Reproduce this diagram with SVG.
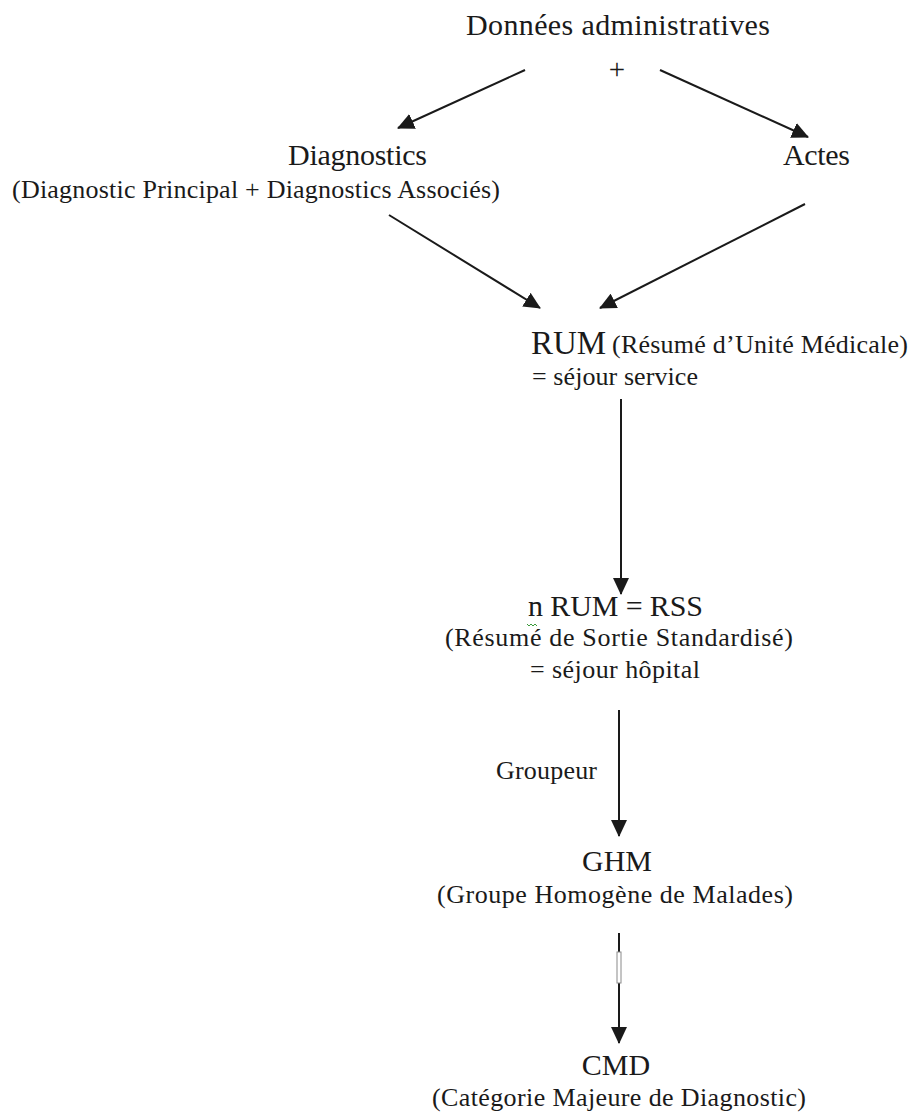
<svg xmlns="http://www.w3.org/2000/svg" width="914" height="1117" viewBox="0 0 914 1117">
  <style>
    text { font-family: "Liberation Serif", "Times New Roman", serif; fill: #1a1a1a; }
    .big { font-size: 30px; }
    .small { font-size: 26px; }
    .c { text-anchor: middle; }
    .edge { stroke: #1a1a1a; stroke-width: 2; fill: none; marker-end: url(#ah); }
  </style>
  <defs>
    <marker id="ah" markerWidth="17" markerHeight="16" refX="16" refY="8" orient="auto" markerUnits="userSpaceOnUse" viewBox="0 0 17 16">
      <path d="M0,0 L17,8 L0,16 z" fill="#1a1a1a"/>
    </marker>
  </defs>
  <rect width="914" height="1117" fill="#fff"/>

  <!-- flow arrows -->
  <g id="connectors">
    <line class="edge" x1="525" y1="70" x2="398" y2="128"/>
    <line class="edge" x1="660" y1="70" x2="808" y2="137"/>
    <line class="edge" x1="389" y1="215" x2="540" y2="308"/>
    <line class="edge" x1="805" y1="204" x2="600" y2="308"/>
    <line class="edge" x1="621" y1="399" x2="621" y2="594"/>
    <line class="edge" x1="619" y1="710" x2="619" y2="836"/>
    <line class="edge" x1="619" y1="933" x2="619" y2="1043"/>
    <!-- small break drawn on the last shaft -->
    <rect x="617" y="952" width="4" height="31" fill="#fff" stroke="#8a8a8a" stroke-width="1"/>
  </g>

  <g id="node-donnees">
    <text class="big" x="466" y="35" textLength="304">Données administratives</text>
    <text class="c" x="617" y="79" font-size="29">+</text>
  </g>

  <g id="node-diagnostics">
    <text class="big" x="288" y="165" textLength="139">Diagnostics</text>
    <text class="small" x="12" y="198" textLength="488">(Diagnostic Principal + Diagnostics Associés)</text>
  </g>

  <g id="node-actes">
    <text class="big" x="783" y="165" textLength="67">Actes</text>
  </g>

  <g id="node-rum">
    <text x="531" y="354" font-size="33">RUM</text>
    <text class="small" x="612" y="353" textLength="296">(Résumé d’Unité Médicale)</text>
    <text class="small" x="532" y="385" textLength="166">= séjour service</text>
  </g>

  <g id="node-rss">
    <text class="big" x="528" y="616" textLength="175">n RUM = RSS</text>
    <path d="M527,624 l2,2 l2,-2 l2,2 l2,-2 l2,2" stroke="#3a9a3a" stroke-width="1" fill="none"/>
    <text class="small" x="445" y="646" textLength="348">(Résumé de Sortie Standardisé)</text>
    <text class="small" x="530" y="678" textLength="170">= séjour hôpital</text>
  </g>

  <g id="label-groupeur">
    <text class="small" x="496" y="779" textLength="101">Groupeur</text>
  </g>

  <g id="node-ghm">
    <text class="big" x="582" y="871" textLength="70">GHM</text>
    <text class="small" x="437" y="903" textLength="356">(Groupe Homogène de Malades)</text>
  </g>

  <g id="node-cmd">
    <text class="big c" x="616" y="1075">CMD</text>
    <text class="small" x="432" y="1106" textLength="374">(Catégorie Majeure de Diagnostic)</text>
  </g>
</svg>
